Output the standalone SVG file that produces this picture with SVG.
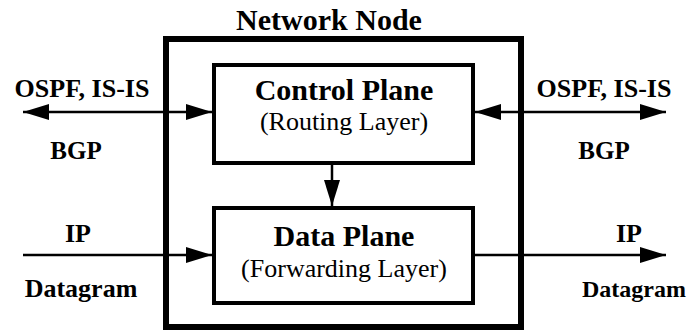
<svg xmlns="http://www.w3.org/2000/svg" width="688" height="331" viewBox="0 0 688 331">
<style>
.bold{font-family:"Liberation Serif","Times New Roman",serif;font-weight:bold;fill:#000}
.reg{font-family:"Liberation Serif","Times New Roman",serif;fill:#000}
.box{fill:none;stroke:#000}
.conn{stroke:#000;stroke-width:2.5;fill:none}
</style>
<defs>
<marker id="ah" viewBox="0 0 26 16" refX="26" refY="8" markerWidth="26" markerHeight="16" markerUnits="userSpaceOnUse" orient="auto-start-reverse">
<path d="M0,0 L26,8 L0,16 Z" fill="#000"/>
</marker>
</defs>
<rect width="688" height="331" fill="#fff"/>
<g id="network-node">
<rect class="box" x="166" y="39" width="355" height="288" stroke-width="6"/>
<text class="bold" x="329" y="30" font-size="30" text-anchor="middle">Network Node</text>
</g>
<g id="control-plane">
<rect class="box" x="214" y="65" width="259" height="98" stroke-width="4"/>
<text class="bold" x="344" y="100" font-size="30" text-anchor="middle">Control Plane</text>
<text class="reg" x="344" y="130" font-size="26" text-anchor="middle">(Routing Layer)</text>
</g>
<g id="data-plane">
<rect class="box" x="214" y="208" width="259" height="95" stroke-width="4"/>
<text class="bold" x="344" y="246" font-size="30" text-anchor="middle">Data Plane</text>
<text class="reg" x="344" y="277" font-size="26" text-anchor="middle">(Forwarding Layer)</text>
</g>
<g id="labels">
<text class="bold" x="82" y="97" font-size="26" text-anchor="middle">OSPF, IS-IS</text>
<text class="bold" x="76" y="159" font-size="25" text-anchor="middle">BGP</text>
<text class="bold" x="604" y="97" font-size="26" text-anchor="middle">OSPF, IS-IS</text>
<text class="bold" x="604" y="159" font-size="25" text-anchor="middle">BGP</text>
<text class="bold" x="78" y="242" font-size="26" text-anchor="middle">IP</text>
<text class="bold" x="81" y="297" font-size="26" text-anchor="middle">Datagram</text>
<text class="bold" x="629" y="242" font-size="26" text-anchor="middle">IP</text>
<text class="bold" x="634" y="297" font-size="24" text-anchor="middle">Datagram</text>
</g>
<g id="connectors">
<line class="conn" x1="23" y1="112" x2="212" y2="112" marker-start="url(#ah)" marker-end="url(#ah)"/>
<line class="conn" x1="475" y1="112" x2="666" y2="112" marker-start="url(#ah)" marker-end="url(#ah)"/>
<line class="conn" x1="332" y1="165" x2="332" y2="206" marker-end="url(#ah)"/>
<line class="conn" x1="23" y1="255" x2="212" y2="255" marker-end="url(#ah)"/>
<line class="conn" x1="475" y1="255" x2="666" y2="255" marker-end="url(#ah)"/>
</g>
</svg>
